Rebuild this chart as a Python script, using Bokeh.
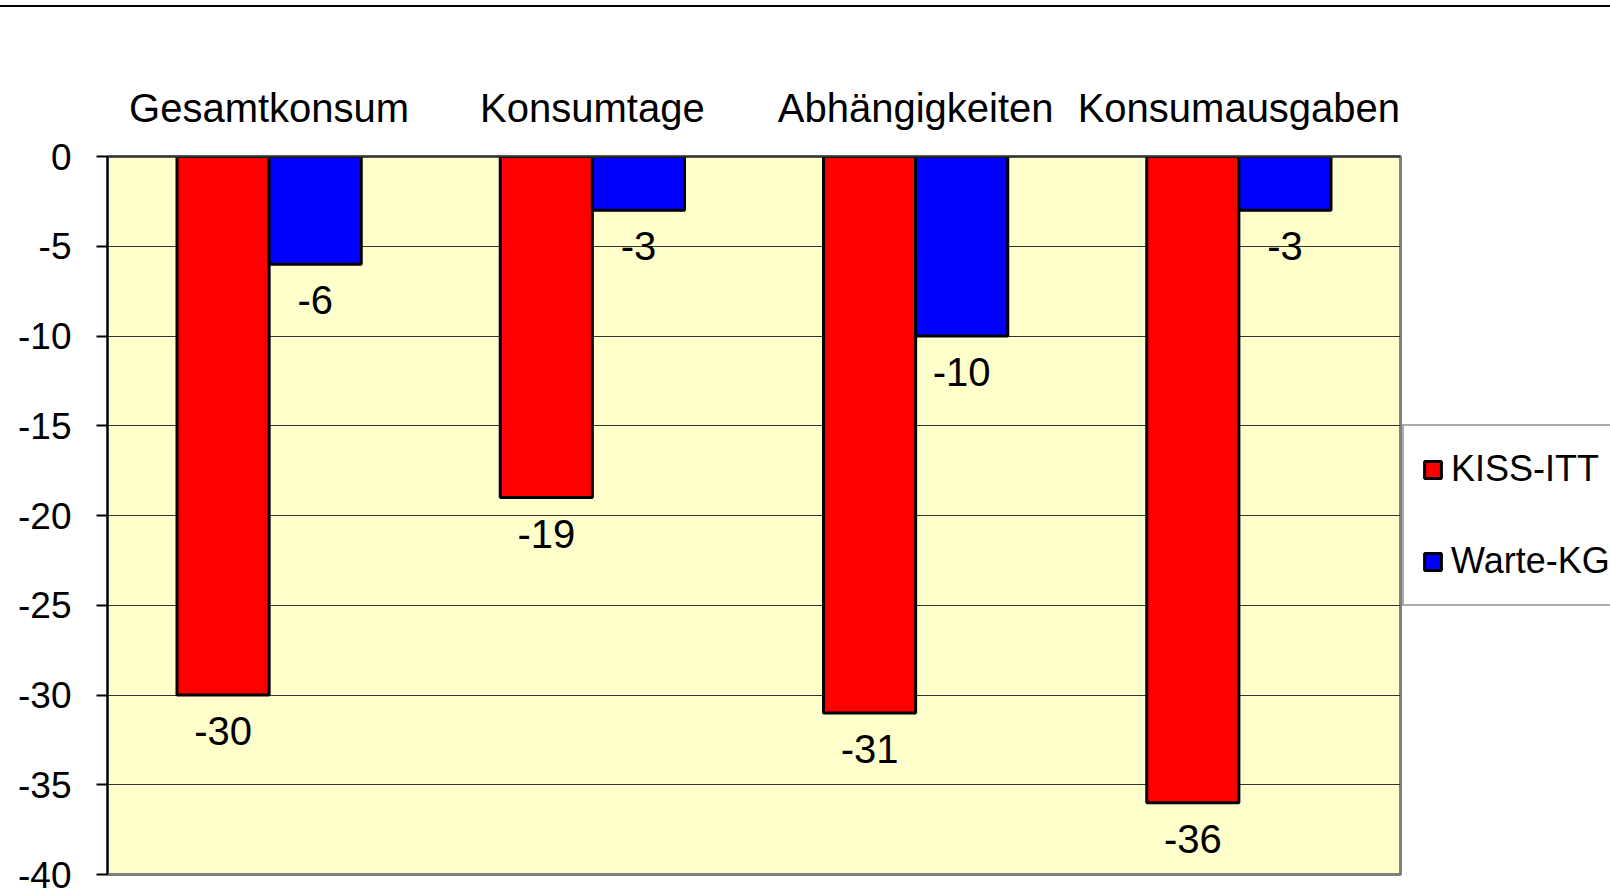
import numpy as np
from bokeh.plotting import figure
from bokeh.models import ColumnDataSource, FactorRange, Range1d, FixedTicker, Div, Legend, LegendItem
from bokeh.transform import dodge
from bokeh.layouts import column, row
from bokeh.core.properties import value
from bokeh.embed import file_html
from bokeh.resources import INLINE

categories = ["Gesamtkonsum", "Konsumtage", "Abhängigkeiten", "Konsumausgaben"]
kiss_itt = [-30, -19, -31, -36]
warte_kg = [-6, -3, -10, -3]
y_ticks = [0, -5, -10, -15, -20, -25, -30, -35, -40]
series_names = ["KISS-ITT", "Warte-KG"]
series_colors = ["#FF0000", "#0000FF"]

FONT = "Liberation Sans"

src = ColumnDataSource(dict(
    cat=categories,
    kiss=kiss_itt,
    warte=warte_kg,
    kiss_lbl=[str(v) for v in kiss_itt],
    warte_lbl=[str(v) for v in warte_kg],
))

H = 885
W_MAIN = 1402
W_LEG = 208

p = figure(
    x_range=FactorRange(*categories, range_padding=0),
    y_range=Range1d(-40, 0),
    width=W_MAIN, height=H,
    output_backend="svg", toolbar_location=None,
    x_axis_location="above",
    min_border_left=107, min_border_right=2, min_border_top=149, min_border_bottom=18,
    background_fill_color="#FFFFCC", border_fill_color="white",
)
p.margin = 0

bw = 0.285
p.vbar(x=dodge("cat", -bw / 2, range=p.x_range), top=0, bottom="kiss", width=bw,
       fill_color=series_colors[0], line_color="black", line_width=3, source=src)
p.vbar(x=dodge("cat", bw / 2, range=p.x_range), top=0, bottom="warte", width=bw,
       fill_color=series_colors[1], line_color="black", line_width=3, source=src)

p.text(x=dodge("cat", -bw / 2, range=p.x_range), y="kiss", text="kiss_lbl", source=src,
       text_align="center", text_baseline="middle", y_offset=36,
       text_font=value(FONT), text_font_size="40px", text_color="black")
p.text(x=dodge("cat", bw / 2, range=p.x_range), y="warte", text="warte_lbl", source=src,
       text_align="center", text_baseline="middle", y_offset=36,
       text_font=value(FONT), text_font_size="40px", text_color="black")

# y axis
p.yaxis.ticker = FixedTicker(ticks=y_ticks)
p.yaxis.major_label_overrides = {t: str(t) for t in y_ticks}
p.yaxis.major_label_text_font = FONT
p.yaxis.major_label_text_font_size = "37px"
p.yaxis.major_label_text_color = "black"
p.yaxis.major_tick_out = 11
p.yaxis.major_tick_in = 0
p.yaxis.minor_tick_line_color = None
p.yaxis.major_tick_line_color = "black"
p.yaxis.major_tick_line_width = 2
p.yaxis.axis_line_color = "black"
p.yaxis.axis_line_width = 2
p.yaxis.major_label_standoff = 25

# category axis on top
p.xaxis.major_label_text_font = FONT
p.xaxis.major_label_text_font_size = "40px"
p.xaxis.major_label_text_color = "black"
p.xaxis.major_tick_line_color = None
p.xaxis.axis_line_color = "#333333"
p.xaxis.axis_line_width = 2
p.xaxis.major_label_standoff = 21

p.xgrid.grid_line_color = None
p.ygrid.grid_line_color = "#333333"
p.ygrid.grid_line_width = 1
p.ygrid.ticker = FixedTicker(ticks=y_ticks)

p.outline_line_color = "#808080"
p.outline_line_width = 3

# legend panel (separate figure so the legend can sit right of the plot area)
pl = figure(
    x_range=Range1d(0, 1), y_range=Range1d(0, 1),
    width=W_LEG, height=H,
    output_backend="svg", toolbar_location=None,
    x_axis_location=None, y_axis_location=None,
    min_border=0, outline_line_color=None,
    background_fill_color="white", border_fill_color="white",
)
pl.margin = 0
pl.grid.grid_line_color = None
# legend swatches only: renderers whose single point is NaN (nothing drawn)
nan_src = ColumnDataSource(dict(x=np.array([np.nan]), t=np.array([np.nan]), b=np.array([np.nan])))
lr1 = pl.vbar(x="x", top="t", bottom="b", width=0.1, source=nan_src,
              fill_color=series_colors[0], line_color="black", line_width=3)
lr2 = pl.vbar(x="x", top="t", bottom="b", width=0.1, source=nan_src,
              fill_color=series_colors[1], line_color="black", line_width=3)

legend = Legend(items=[LegendItem(label=series_names[0], renderers=[lr1]),
                       LegendItem(label=series_names[1], renderers=[lr2])],
                location=(0, 268))
legend.label_text_font = FONT
legend.label_text_font_size = "36px"
legend.label_text_color = "black"
legend.glyph_width = 21
legend.glyph_height = 21
legend.label_height = 50
legend.spacing = 42
legend.padding = 18
legend.margin = 0
legend.label_standoff = 8
legend.border_line_color = "#555555"
legend.border_line_width = 2
legend.background_fill_color = "white"
legend.background_fill_alpha = 1.0
pl.add_layout(legend)

top_line = Div(text="", width=W_MAIN + W_LEG, height=2, margin=(5, 0, 0, 0),
               styles={"background-color": "black"})

layout = column(top_line, row(p, pl, margin=0, spacing=0), margin=0, spacing=0)

open("out.html", "w").write(file_html(layout, INLINE))
